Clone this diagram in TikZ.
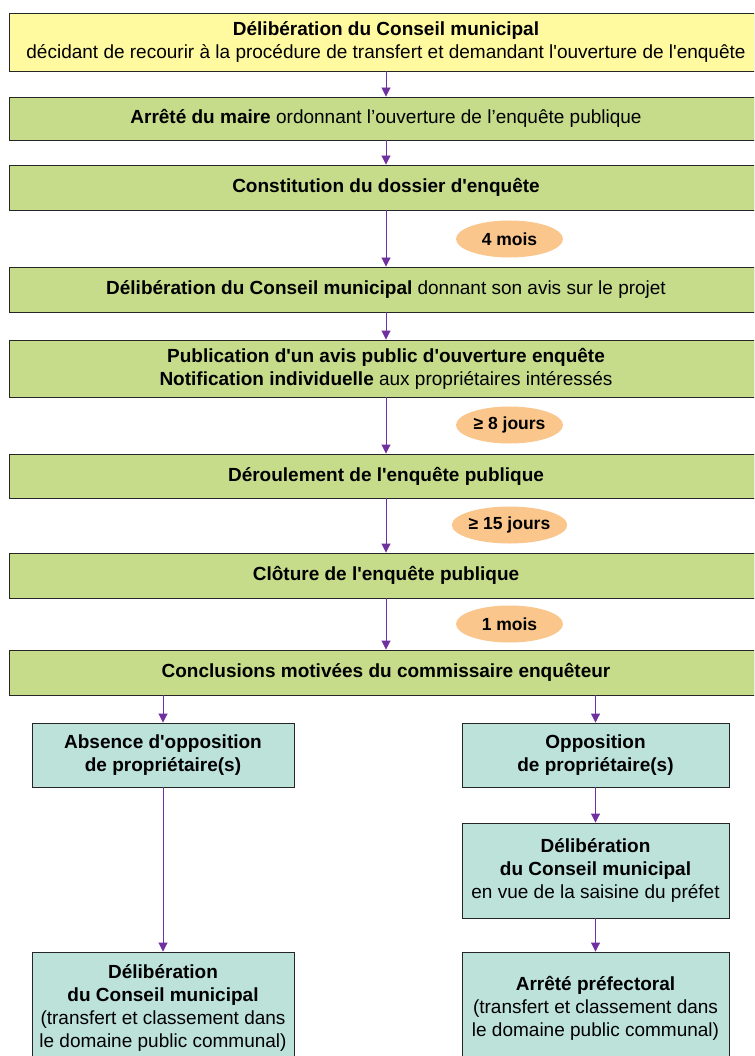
\documentclass[tikz,border=0pt]{standalone}
\usepackage{fontspec}
\setmainfont{Liberation Sans}[Ligatures=TeXOff]
\usetikzlibrary{arrows.meta,shapes.geometric,shadows}
\definecolor{boxyellow}{HTML}{FFFA9F}
\definecolor{boxgreen}{HTML}{C6DC8B}
\definecolor{boxteal}{HTML}{BCE2DA}
\definecolor{ovalorange}{HTML}{FAC68C}
\definecolor{arrpurple}{HTML}{7030A0}
\begin{document}
\begin{tikzpicture}[x=1pt,y=-1pt,
  box/.style={draw=black!85, line width=0.9pt, align=center, inner sep=0pt,
    drop shadow={shadow xshift=0.8pt, shadow yshift=-1pt, fill=black!45, opacity=1},
    font=\fontsize{19}{23}\selectfont},
  mainbox/.style={box, fill=boxgreen, minimum width=754pt},
  sidebox/.style={box, fill=boxteal},
  delay/.style={ellipse, fill=ovalorange, minimum width=107pt, minimum height=37pt,
    inner sep=0pt, font=\fontsize{17.5}{21}\selectfont\bfseries},
  arr/.style={draw=arrpurple, line width=0.9pt, -{Triangle[width=9pt,length=9pt]}, arrpurple}
]
\useasboundingbox (0,0) rectangle (754,1056);
\fill[white] (0,0) rectangle (754,1056);
\clip (0,0) rectangle (754,1056);

\node[box, fill=boxyellow, minimum width=754pt, minimum height=58pt] (b1) at (386,42)
  {\textbf{Délibération du Conseil municipal}\\décidant de recourir à la procédure de transfert et demandant l'ouverture de l'enquête};
\node[mainbox, minimum height=43pt] (b2) at (386,118.5)
  {\textbf{Arrêté du maire} ordonnant l’ouverture de l’enquête publique};
\node[mainbox, minimum height=45pt] (b3) at (386,187.5)
  {\textbf{Constitution du dossier d'enquête}};
\node[mainbox, minimum height=45pt] (b4) at (386,289.5)
  {\textbf{Délibération du Conseil municipal} donnant son avis sur le projet};
\node[mainbox, minimum height=57pt] (b5) at (386,368.5)
  {\textbf{Publication d'un avis public d'ouverture enquête}\\\textbf{Notification individuelle} aux propriétaires intéressés};
\node[mainbox, minimum height=44pt] (b6) at (386,476)
  {\textbf{Déroulement de l'enquête publique}};
\node[mainbox, minimum height=45pt] (b7) at (386,575.5)
  {\textbf{Clôture de l'enquête publique}};
\node[mainbox, minimum height=45pt] (b8) at (386,672.5)
  {\textbf{Conclusions motivées du commissaire enquêteur}};

\node[sidebox, minimum width=262pt, minimum height=64pt] (l1) at (163,755)
  {\textbf{Absence d'opposition}\\\textbf{de propriétaire(s)}};
\node[sidebox, minimum width=262pt, minimum height=112pt] (l2) at (163,1008)
  {\textbf{Délibération}\\\textbf{du Conseil municipal}\\(transfert et classement dans\\le domaine public communal)};
\node[sidebox, minimum width=267pt, minimum height=64pt] (r1) at (595.5,755)
  {\textbf{Opposition}\\\textbf{de propriétaire(s)}};
\node[sidebox, minimum width=267pt, minimum height=95pt] (r2) at (595.5,870.5)
  {\textbf{Délibération}\\\textbf{du Conseil municipal}\\en vue de la saisine du préfet};
\node[sidebox, minimum width=267pt, minimum height=112pt] (r3) at (595.5,1008)
  {\textbf{Arrêté préfectoral}\\(transfert et classement dans\\le domaine public communal)};

\node[delay] (d1) at (509.5,239) {4 mois};
\node[delay] (d2) at (509.5,425) {≥ 8 jours};
\node[delay] (d3) at (509.5,525) {≥ 15 jours};
\node[delay] (d4) at (509.5,624) {1 mois};

\draw[arr] (b1) -- (b2);
\draw[arr] (b2) -- (b3);
\draw[arr] (b3) -- (b4);
\draw[arr] (b4) -- (b5);
\draw[arr] (b5) -- (b6);
\draw[arr] (b6) -- (b7);
\draw[arr] (b7) -- (b8);
\draw[arr] (l1 |- b8.south) -- (l1.north);
\draw[arr] (r1 |- b8.south) -- (r1.north);
\draw[arr] (l1) -- (l2);
\draw[arr] (r1) -- (r2);
\draw[arr] (r2) -- (r3);
\end{tikzpicture}
\end{document}
